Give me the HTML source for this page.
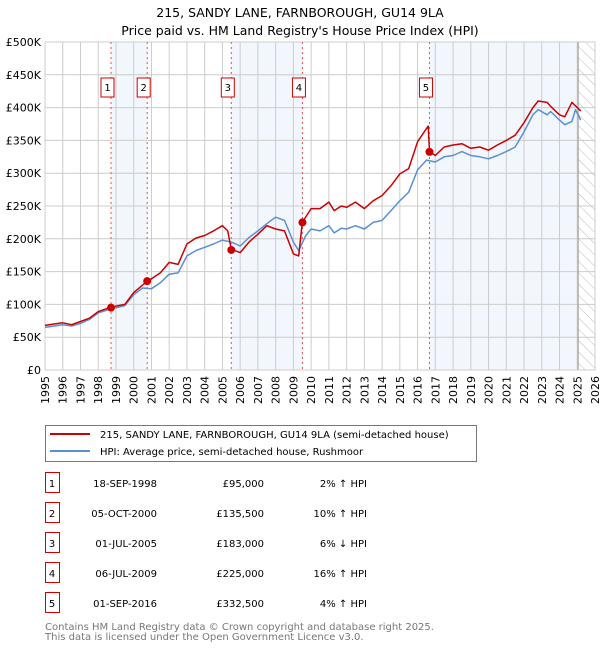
<!DOCTYPE html>
<html><head><meta charset="utf-8"><style>
body{margin:0;background:#fff;font-family:"Liberation Sans","DejaVu Sans",sans-serif;}
svg text{font-family:"DejaVu Sans","Liberation Sans",sans-serif;}
</style></head><body>
<svg id="c" width="600" height="650" xmlns="http://www.w3.org/2000/svg">
<defs><pattern id="hatch" width="8" height="8" patternUnits="userSpaceOnUse" patternTransform="rotate(-45)"><line x1="0" y1="0" x2="0" y2="8" stroke="#bbb" stroke-width="1"/></pattern></defs>
<text x="300" y="17" text-anchor="middle" font-size="12.5">215, SANDY LANE, FARNBOROUGH, GU14 9LA</text>
<text x="300" y="35" text-anchor="middle" font-size="12.5">Price paid vs. HM Land Registry's House Price Index (HPI)</text>
<g id="plot"></g>
<g>
<rect x="45.5" y="425.5" width="431" height="36" fill="#fff" stroke="#777"/>
<line x1="50" y1="434" x2="90" y2="434" stroke="#cc0000" stroke-width="2"/>
<text x="100" y="438" font-size="10">215, SANDY LANE, FARNBOROUGH, GU14 9LA (semi-detached house)</text>
<line x1="50" y1="451" x2="90" y2="451" stroke="#5b8fd4" stroke-width="2"/>
<text x="100" y="455" font-size="10">HPI: Average price, semi-detached house, Rushmoor</text>
</g>
<g id="table" font-size="10"></g>
<text x="45" y="630" font-size="10" fill="#777">Contains HM Land Registry data © Crown copyright and database right 2025.</text>
<text x="45" y="640" font-size="10" fill="#777">This data is licensed under the Open Government Licence v3.0.</text>
</svg>
<script>
const hpiYears=[1995,1996,1996.5,1997,1997.5,1998,1998.7,1999.5,2000,2000.5,2001,2001.5,2002,2002.5,2003,2003.5,2004,2004.5,2005,2005.5,2006,2006.5,2007,2007.5,2008,2008.5,2009,2009.3,2009.7,2010,2010.5,2011,2011.3,2011.7,2012,2012.5,2013,2013.5,2014,2014.5,2015,2015.5,2016,2016.5,2017,2017.5,2018,2018.5,2019,2019.5,2020,2020.5,2021,2021.5,2022,2022.5,2022.8,2023.3,2023.5,2024,2024.3,2024.7,2024.9,2025.2];
const hpiValues=[65,69,67,71,77,87,93,98,115,125,124,133,146,148,174,182,187,192,198,195,189,202,212,223,233,228,195,182,205,215,212,220,209,216,215,220,215,225,228,243,258,271,305,320,317,325,327,333,327,325,322,327,333,340,363,389,397,389,394,381,374,379,397,381];
const priceYears=[1995,1996,1996.5,1997,1997.5,1998,1998.7,1999.5,2000,2000.75,2001,2001.5,2002,2002.5,2003,2003.5,2004,2004.5,2005,2005.3,2005.5,2006,2006.5,2007,2007.5,2008,2008.5,2009,2009.3,2009.5,2010,2010.5,2011,2011.3,2011.7,2012,2012.5,2013,2013.5,2014,2014.5,2015,2015.5,2016,2016.6,2016.67,2017,2017.5,2018,2018.5,2019,2019.5,2020,2020.5,2021,2021.5,2022,2022.5,2022.8,2023.3,2023.5,2024,2024.3,2024.7,2025.2];
const priceValues=[68,72,69,74,79,89,95.7,100,118,135,139,148,164,161,192,201,205,212,220,212,184,179,195,207,220,215,212,177,174,225,246,246,256,243,250,248,256,246,258,266,281,299,307,348,372,333,327,340,343,345,338,340,335,343,350,358,377,400,410,408,402,389,386,408,395];
const saleYears=[1998.72,2000.76,2005.5,2009.51,2016.67];
const saleValues=[95,135.5,183,225,332.5];
const saleLabels=["1","2","3","4","5"];
const saleDates=["18-SEP-1998","05-OCT-2000","01-JUL-2005","06-JUL-2009","01-SEP-2016"];
const salePrices=["£95,000","£135,500","£183,000","£225,000","£332,500"];
const saleHpi=["2% ↑ HPI","10% ↑ HPI","6% ↓ HPI","16% ↑ HPI","4% ↑ HPI"];
const yTicks=[0,50,100,150,200,250,300,350,400,450,500];
const yTickLabels=["£0","£50K","£100K","£150K","£200K","£250K","£300K","£350K","£400K","£450K","£500K"];
const xStart=1995,xEnd=2026,dataEnd=2025.05;

const NS="http://www.w3.org/2000/svg";
const L=45,R=595,T=42,B=370;
const X=y=>L+(y-xStart)/(xEnd-xStart)*(R-L);
const Y=v=>B-v/500*(B-T);
const g=document.getElementById('plot');
function mk(tag,attrs,parent){const e=document.createElementNS(NS,tag);for(const k in attrs)e.setAttribute(k,attrs[k]);(parent||g).appendChild(e);return e;}
mk('rect',{x:L,y:T,width:R-L,height:B-T,fill:'#fff'});
// shaded ownership spans
const spans=[[0,1],[2,3],[4,-1]];
spans.forEach((s,i)=>{const a=X(saleYears[s[0]]),b=s[1]<0?X(dataEnd):X(saleYears[s[1]]);
const r=mk('rect',{x:a,y:T,width:b-a,height:B-T,fill:'#eef3fc',opacity:0.75});

});
const h=mk('rect',{x:X(dataEnd),y:T,width:R-X(dataEnd),height:B-T,fill:'url(#hatch)'});


for(let yr=xStart;yr<=xEnd;yr++){const x=X(yr);
const ln=mk('line',{x1:x,y1:T,x2:x,y2:B,stroke:'#ccc','stroke-width':1});


const t=mk('text',{x:0,y:0,'font-size':11,'text-anchor':'end',transform:`translate(${x+4},${B+6}) rotate(-90)`});
t.textContent=yr;

}
yTicks.forEach((v,i)=>{const y=Y(v);
const ln=mk('line',{x1:L,y1:y,x2:R,y2:y,stroke:'#ccc','stroke-width':1});


const t=mk('text',{x:L-4,y:y+4,'font-size':11,'text-anchor':'end'});
t.textContent=yTickLabels[i];

});
mk('line',{x1:X(dataEnd),y1:T,x2:X(dataEnd),y2:B,stroke:'#999','stroke-width':1});
saleYears.forEach((yr,i)=>{const x=X(yr);
const ln=mk('line',{x1:x,y1:T,x2:x,y2:B,stroke:'#e85050','stroke-width':1,'stroke-dasharray':'2,3'});


const bx=mk('rect',{x:x-10,y:78,width:13,height:19,fill:'#fff',stroke:'#cc0000'});


const t=mk('text',{x:x-3.5,y:91,'font-size':10,'text-anchor':'middle'});
t.textContent=saleLabels[i];

});
function line(xs,vs,color,name){const d=xs.map((x,i)=>(i?'L':'M')+X(x).toFixed(1)+','+Y(vs[i]).toFixed(1)).join('');
const p=mk('path',{d:d,fill:'none',stroke:color,'stroke-width':1.5,'stroke-linejoin':'round'});

}
line(hpiYears,hpiValues,'#5b8fd4','hpi-line');
line(priceYears,priceValues,'#cc0000','price-line');
saleYears.forEach((yr,i)=>{const c=mk('circle',{cx:X(yr),cy:Y(saleValues[i]),r:4,fill:'#cc0000'});

});
mk('line',{x1:L,y1:B,x2:R,y2:B,stroke:'#ccc'});
const tb=document.getElementById('table');
saleLabels.forEach((lab,i)=>{const y=483+i*30;
const bx=mk('rect',{x:45.5,y:y-10.5,width:14,height:20,fill:'#fff',stroke:'#cc0000'},tb);


const cols=[[52,lab,'middle'],[157,saleDates[i],'end'],[264,salePrices[i],'end'],[367,saleHpi[i],'end']];
const nm=['table-index','table-date','table-price','table-hpi-diff'];
cols.forEach((c,j)=>{const t=mk('text',{x:c[0],y:y+4,'text-anchor':c[2]},tb);t.textContent=c[1];

});});
</script>
</body></html>
